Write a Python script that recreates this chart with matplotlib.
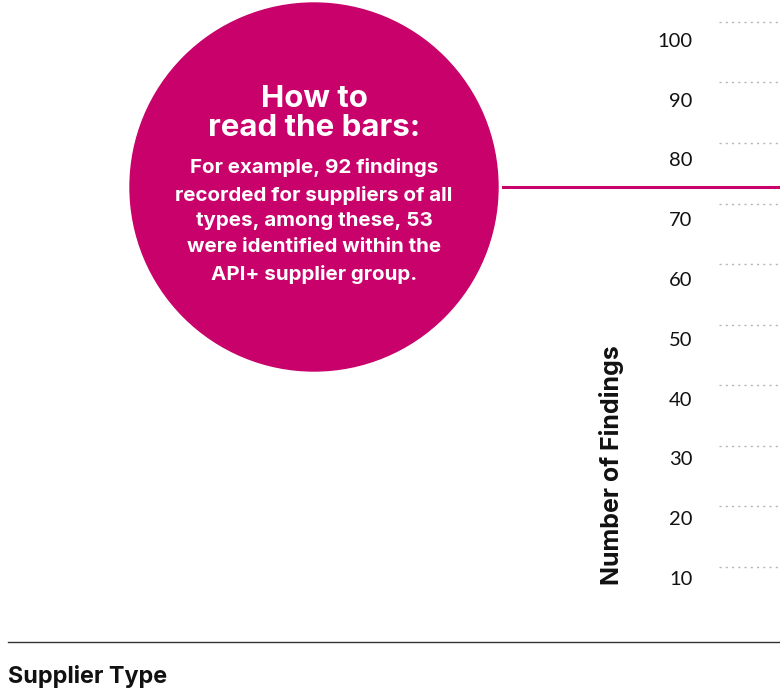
import matplotlib.pyplot as plt
from matplotlib.patches import Circle
from matplotlib.lines import Line2D
import matplotlib.transforms as mtransforms

# Axis values
y_ticks = [10, 20, 30, 40, 50, 60, 70, 80, 90, 100]
y_tick_labels = [str(v) for v in y_ticks]
y_range = (-2.2, 103.6)

# Callout text
callout_title = "How to\nread the bars:"
callout_body = ("For example, 92 findings\nrecorded for suppliers of all\n"
                "types, among these, 53\nwere identified within the\n"
                "API+ supplier group.")

pink = '#C8016B'
W, H = 780, 689

fig = plt.figure(figsize=(W / 100, H / 100), dpi=100)

# Overlay in pixel coordinates for the baseline, callout and labels
over = fig.add_axes([0, 0, 1, 1])
over.set_xlim(0, W)
over.set_ylim(H, 0)
over.axis('off')

# Value axis: only the gridline strip on the right edge is visible
ax = fig.add_axes([719 / W, (H - 641) / H, (W - 719) / W, 641 / H])
ax.set_ylim(*y_range)
ax.set_xlim(0, 1)
for s in ax.spines.values():
    s.set_visible(False)
ax.set_xticks([])
ax.set_yticks(y_ticks)
ax.set_yticklabels(y_tick_labels, fontsize=14.5, family='Lato', color='#111111')
ax.tick_params(axis='y', length=0, pad=19)
ax.patch.set_alpha(0)
# labels sit a little below their gridlines
for v, lbl in zip(y_ticks, ax.get_yticklabels()):
    dy = (11 + (v - 10) * 7 / 90) / 100
    shift = mtransforms.ScaledTranslation(0, -dy, fig.dpi_scale_trans)
    lbl.set_transform(lbl.get_transform() + shift)
ax.hlines(y_ticks, 0, 1, colors='#b5b5b5', linewidth=1.0,
          linestyles=(0, (1.5, 3)))

# Baseline
over.add_line(Line2D([8, W], [641.5, 641.5], color='#333333', linewidth=1.0))

# Callout circle and leader line
over.add_patch(Circle((314, 187), 184, color=pink, zorder=1))
over.add_line(Line2D([503, W], [187, 187], color=pink, linewidth=2.2))

over.text(314, 113.5, callout_title, color='white', fontsize=22.5, family='Inter',
          fontweight='bold', ha='center', va='center', linespacing=1.08)
over.text(314, 221, callout_body, color='white', fontsize=14.8, family='Inter',
          fontweight='bold', ha='center', va='center', linespacing=1.56)

# Axis titles
over.text(612, 465, 'Number of Findings', rotation=90, fontsize=18,
          family='Inter', fontweight='bold', ha='center', va='center', color='#111111')
over.text(8, 676, 'Supplier Type', fontsize=16.8, family='Inter',
          fontweight='bold', ha='left', va='center', color='#111111')

fig.savefig('out.png', dpi=100)
